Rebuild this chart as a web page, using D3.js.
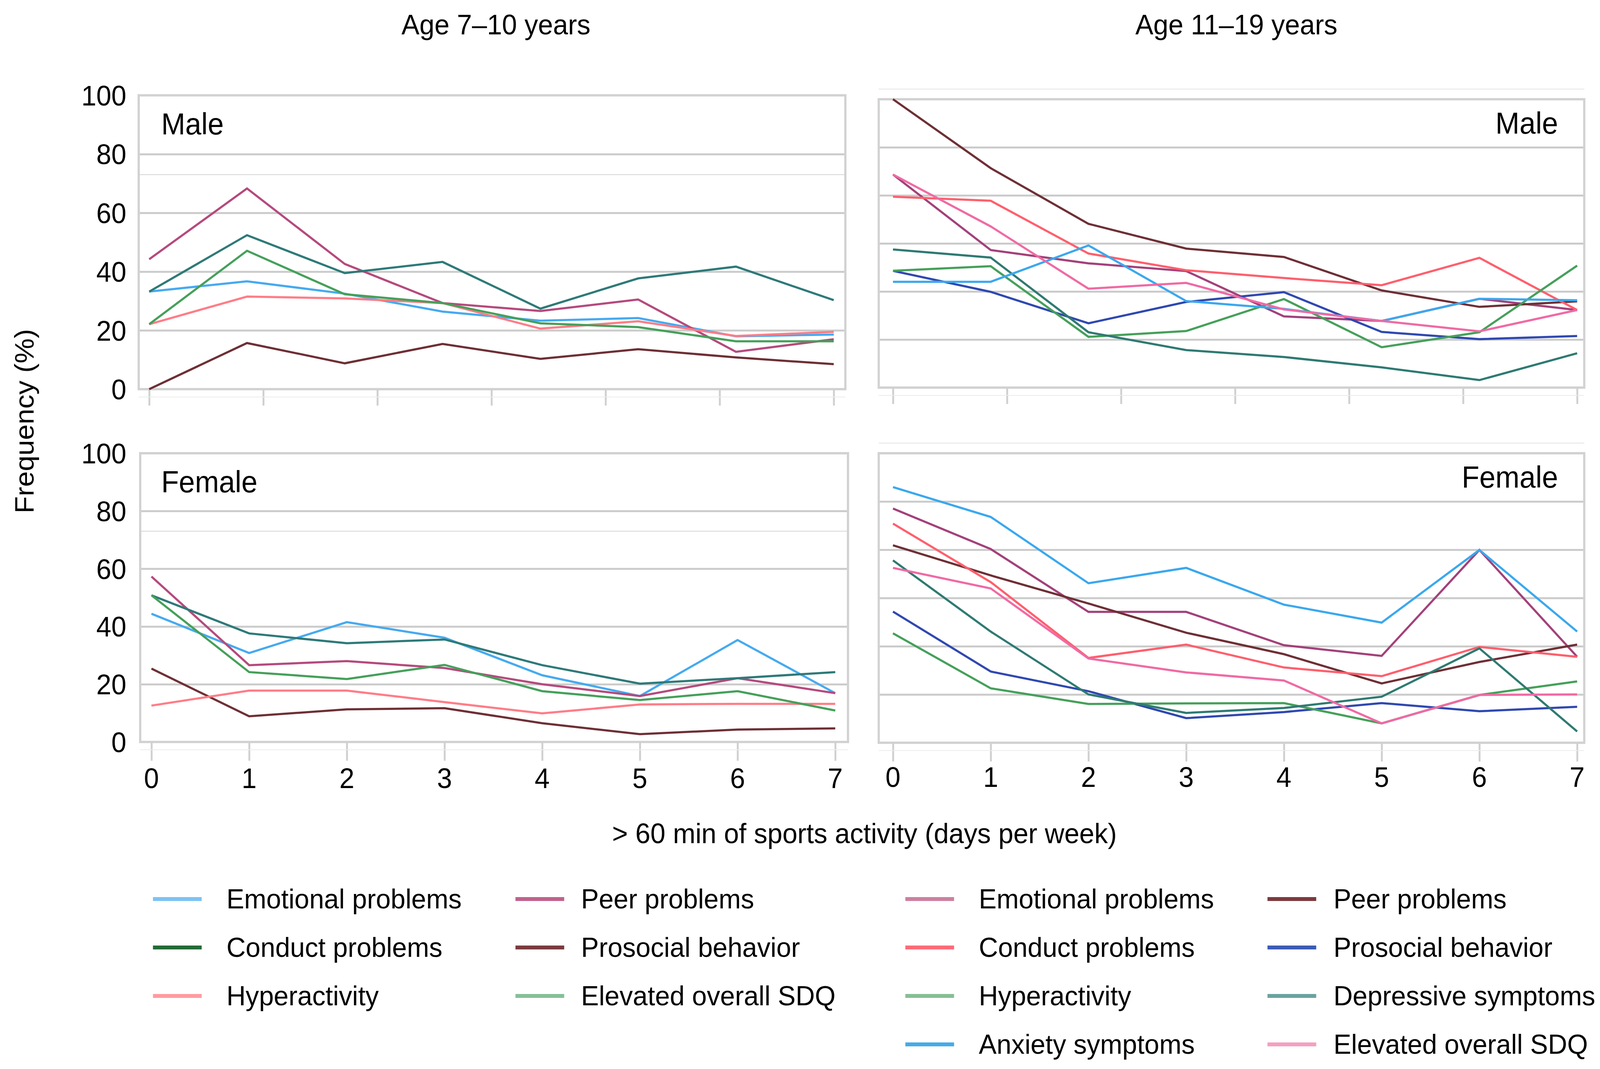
<!DOCTYPE html>
<html>
<head>
<meta charset="utf-8">
<script src="https://cdn.jsdelivr.net/npm/d3@7"></script>
<style>
  html, body { margin: 0; padding: 0; background: #fff; overflow: hidden; }
  svg { display: block; width: 100vw; height: 100vh; }
  text { font-family: 'Liberation Sans', Arial, sans-serif; fill: #000; }
</style>
</head>
<body>
<svg id="chart" viewBox="0 0 4268 2736" preserveAspectRatio="none"></svg>
<script>

// ---- data --------------------------------------------------------------

const days = [0, 1, 2, 3, 4, 5, 6, 7];

const youngSeries = ['Emotional problems', 'Peer problems', 'Conduct problems',
                     'Prosocial behavior', 'Hyperactivity', 'Elevated overall SDQ'];
const youngLineColors = ['#45aaf0', '#b54a7d', '#2e7a78', '#6e2f35', '#ff7d87', '#45a05a'];
const youngKeyColors  = ['#7cc3f3', '#c0628c', '#236b36', '#7a3a3e', '#ff9ca0', '#86bf96'];

// rows follow youngSeries
const youngMale = [
  [33.2, 36.7, 32.5, 26.4, 23.3, 24.2, 18.0, 18.6],
  [44.2, 68.3, 42.6, 29.3, 26.6, 30.5, 12.7, 17.0],
  [33.2, 52.4, 39.5, 43.3, 27.4, 37.7, 41.7, 30.3],
  [ 0.0, 15.7,  8.8, 15.4, 10.3, 13.6, 10.8,  8.5],
  [22.1, 31.5, 30.9, 29.3, 20.6, 23.1, 18.1, 19.5],
  [22.1, 47.1, 32.3, 29.3, 22.4, 21.1, 16.3, 16.3]
];
const youngFemale = [
  [44.4, 30.8, 41.5, 36.1, 23.1, 15.9, 35.3, 16.9],
  [57.3, 26.6, 28.0, 25.6, 20.0, 15.9, 22.1, 16.9],
  [50.8, 37.6, 34.2, 35.5, 26.6, 20.2, 22.1, 24.2],
  [25.4,  8.9, 11.3, 11.7,  6.5,  2.7,  4.3,  4.7],
  [12.6, 17.8, 17.8, 13.8,  9.9, 13.0, 13.2, 13.2],
  [50.8, 24.2, 21.8, 26.7, 17.6, 14.5, 17.6, 10.9]
];

const olderSeries = ['Emotional problems', 'Peer problems', 'Conduct problems',
                     'Prosocial behavior', 'Hyperactivity', 'Depressive symptoms',
                     'Anxiety symptoms', 'Elevated overall SDQ'];
const olderLineColors = ['#a3417a', '#6e2f35', '#ff5f6d', '#2f48b0', '#45a05a', '#2e7a72', '#3aa8ee', '#f06aa4'];
const olderKeyColors  = ['#cc80a0', '#7a3a3e', '#ff6b78', '#3b5bb5', '#86bf94', '#6aa3a0', '#46aae8', '#f4a0c0'];

// rows follow olderSeries
const olderMale = [
  [ 73.9, 47.7, 43.1, 40.4, 24.7, 23.1, 30.8, 26.9],
  [100.0, 76.1, 56.8, 48.2, 45.3, 33.7, 28.0, 29.9],
  [ 66.2, 64.8, 46.5, 40.7, 38.0, 35.5, 45.0, 26.9],
  [ 40.5, 33.2, 22.3, 29.7, 33.1, 19.3, 16.8, 17.9],
  [ 40.5, 42.1, 17.6, 19.6, 30.7, 14.0, 19.2, 42.3],
  [ 47.9, 45.1, 19.2, 13.0, 10.6,  7.0,  2.6, 11.9],
  [ 36.7, 36.7, 49.3, 30.0, 27.3, 23.1, 30.8, 30.3],
  [ 73.9, 55.9, 34.3, 36.3, 27.1, 23.1, 19.5, 26.9]
];
const olderFemale = [
  [80.9, 66.9, 45.2, 45.2, 33.7, 30.0, 66.6, 29.7],
  [68.2, 57.8, 48.1, 38.0, 30.6, 20.5, 27.9, 33.9],
  [75.7, 55.5, 29.3, 33.9, 26.0, 23.0, 33.1, 29.7],
  [45.3, 24.6, 17.8,  8.5, 10.6, 13.7, 10.9, 12.4],
  [37.8, 18.8, 13.4, 13.6, 13.7,  6.7, 16.5, 21.2],
  [63.0, 38.4, 16.7, 10.3, 12.0, 15.9, 32.6,  3.9],
  [88.3, 78.0, 55.1, 60.4, 47.7, 41.5, 66.6, 38.4],
  [60.4, 53.3, 29.1, 24.3, 21.5,  6.7, 16.5, 16.7]
];

const leftTicks  = [0, 20, 40, 60, 80, 100];
const rightGrid  = [0, 100 / 6, 200 / 6, 50, 400 / 6, 500 / 6, 100];
const ghostLevel = 73;   // faint extra rule in the left panels

// ---- layout ------------------------------------------------------------

const svg = d3.select('#chart');

const panels = [
  { rows: youngMale,   colors: youngLineColors, label: 'Male',   side: 'left',
    box: [370, 244, 2255, 996],   xr: [398, 2224],  grid: leftTicks, showDays: false },
  { rows: youngFemale, colors: youngLineColors, label: 'Female', side: 'left',
    box: [374, 1160, 2262, 1899], xr: [404, 2228],  grid: leftTicks, showDays: true },
  { rows: olderMale,   colors: olderLineColors, label: 'Male',   side: 'right',
    box: [2344, 254, 4226, 992],  xr: [2382, 4207], grid: rightGrid, showDays: false },
  { rows: olderFemale, colors: olderLineColors, label: 'Female', side: 'right',
    box: [2344, 1160, 4226, 1901], xr: [2382, 4207], grid: rightGrid, showDays: true }
];

panels.forEach(drawPanel);

function drawPanel(p) {
  const [left, top, right, bottom] = p.box;
  const x = d3.scaleLinear().domain([0, 7]).range(p.xr);
  const y = d3.scaleLinear().domain([0, 100]).range([bottom, top]);
  const g = svg.append('g');

  // faint outer edge / ghost rule
  if (p.side === 'right') {
    g.append('line')
      .attr('x1', left).attr('x2', right)
      .attr('y1', top - 26).attr('y2', top - 26)
      .attr('stroke', '#e4e4e4').attr('stroke-width', 2);
  } else {
    g.append('line')
      .attr('x1', left).attr('x2', right)
      .attr('y1', y(ghostLevel)).attr('y2', y(ghostLevel))
      .attr('stroke', '#d6d6d6').attr('stroke-width', 2);
  }

  // horizontal grid
  const yAxis = d3.axisLeft(y)
    .tickValues(p.grid)
    .tickSize(-(right - left))
    .tickFormat('');
  const gy = g.append('g')
    .attr('transform', `translate(${left},0)`)
    .call(yAxis);
  gy.select('.domain').remove();
  gy.selectAll('.tick line')
    .attr('stroke', '#cbcbcb')
    .attr('stroke-width', 5);

  // frame
  g.append('rect')
    .attr('x', left).attr('y', top)
    .attr('width', right - left).attr('height', bottom - top)
    .attr('fill', 'none')
    .attr('stroke', '#d2d2d2')
    .attr('stroke-width', 6);

  // y tick labels (left column only)
  if (p.side === 'left') {
    g.selectAll('.ylab').data(leftTicks).enter().append('text')
      .attr('class', 'ylab')
      .attr('x', 337)
      .attr('y', d => y(d))
      .attr('dy', '0.36em')
      .attr('text-anchor', 'end')
      .attr('font-size', 72)
      .text(d => d);
  }

  // x ticks: top row has 7 evenly spread ticks, bottom row one per day
  const tickVals = p.showDays ? days : d3.range(7).map(i => i * 7 / 6);
  const xAxis = d3.axisBottom(x)
    .tickValues(tickVals)
    .tickSize(p.showDays ? 48 : 42)
    .tickFormat('');
  const gx = g.append('g')
    .attr('transform', `translate(0,${bottom})`)
    .call(xAxis);
  gx.select('.domain').remove();
  gx.selectAll('.tick line')
    .attr('stroke', '#d0d0d0')
    .attr('stroke-width', 5);

  g.append('line')
    .attr('x1', left).attr('x2', right)
    .attr('y1', bottom + 20).attr('y2', bottom + 20)
    .attr('stroke', '#ececec').attr('stroke-width', 2);

  if (p.showDays) {
    g.selectAll('.xlab').data(days).enter().append('text')
      .attr('class', 'xlab')
      .attr('x', d => x(d))
      .attr('y', p.side === 'left' ? 2017 : 2014)
      .attr('text-anchor', 'middle')
      .attr('font-size', 72)
      .text(d => d);
  }

  // lines
  const line = d3.line()
    .x((d, i) => x(days[i]))
    .y(d => y(d));

  g.selectAll('.series').data(p.rows).enter().append('path')
    .attr('class', 'series')
    .attr('d', line)
    .attr('fill', 'none')
    .attr('stroke', (d, i) => p.colors[i])
    .attr('stroke-width', 5.5)
    .attr('stroke-linejoin', 'miter');

  // panel label
  const isLeft = p.side === 'left';
  g.append('text')
    .attr('x', isLeft ? 430 : 4156)
    .attr('y', top + (isLeft ? 100 : 88))
    .attr('text-anchor', isLeft ? 'start' : 'end')
    .attr('font-size', 77)
    .text(p.label);
}

// ---- titles ------------------------------------------------------------

svg.append('text')
  .attr('x', 1323).attr('y', 88)
  .attr('text-anchor', 'middle')
  .attr('font-size', 72)
  .text('Age 7–10 years');

svg.append('text')
  .attr('x', 3298).attr('y', 88)
  .attr('text-anchor', 'middle')
  .attr('font-size', 72)
  .text('Age 11–19 years');

svg.append('text')
  .attr('transform', 'translate(90,1078) rotate(-90)')
  .attr('text-anchor', 'middle')
  .attr('font-size', 72)
  .text('Frequency (%)');

svg.append('text')
  .attr('x', 2306).attr('y', 2158)
  .attr('text-anchor', 'middle')
  .attr('font-size', 72)
  .text('> 60 min of sports activity (days per week)');

// ---- legends -----------------------------------------------------------

drawLegend(youngSeries, youngKeyColors, [408, 1375], [604, 1550], 2301);
drawLegend(olderSeries, olderKeyColors, [2415, 3381], [2611, 3557], 2301);

function drawLegend(names, colors, swatchX, textX, firstY) {
  const rowGap = 124;
  const items = names.map((name, i) => ({
    name, color: colors[i], col: i % 2, row: Math.floor(i / 2)
  }));

  const lg = svg.append('g');
  const item = lg.selectAll('g').data(items).enter().append('g')
    .attr('transform', d => `translate(0,${firstY + d.row * rowGap})`);

  item.append('line')
    .attr('x1', d => swatchX[d.col])
    .attr('x2', d => swatchX[d.col] + 130)
    .attr('stroke', d => d.color)
    .attr('stroke-width', 10);

  item.append('text')
    .attr('x', d => textX[d.col])
    .attr('y', 24)
    .attr('font-size', 71)
    .text(d => d.name);
}

</script>
</body>
</html>
